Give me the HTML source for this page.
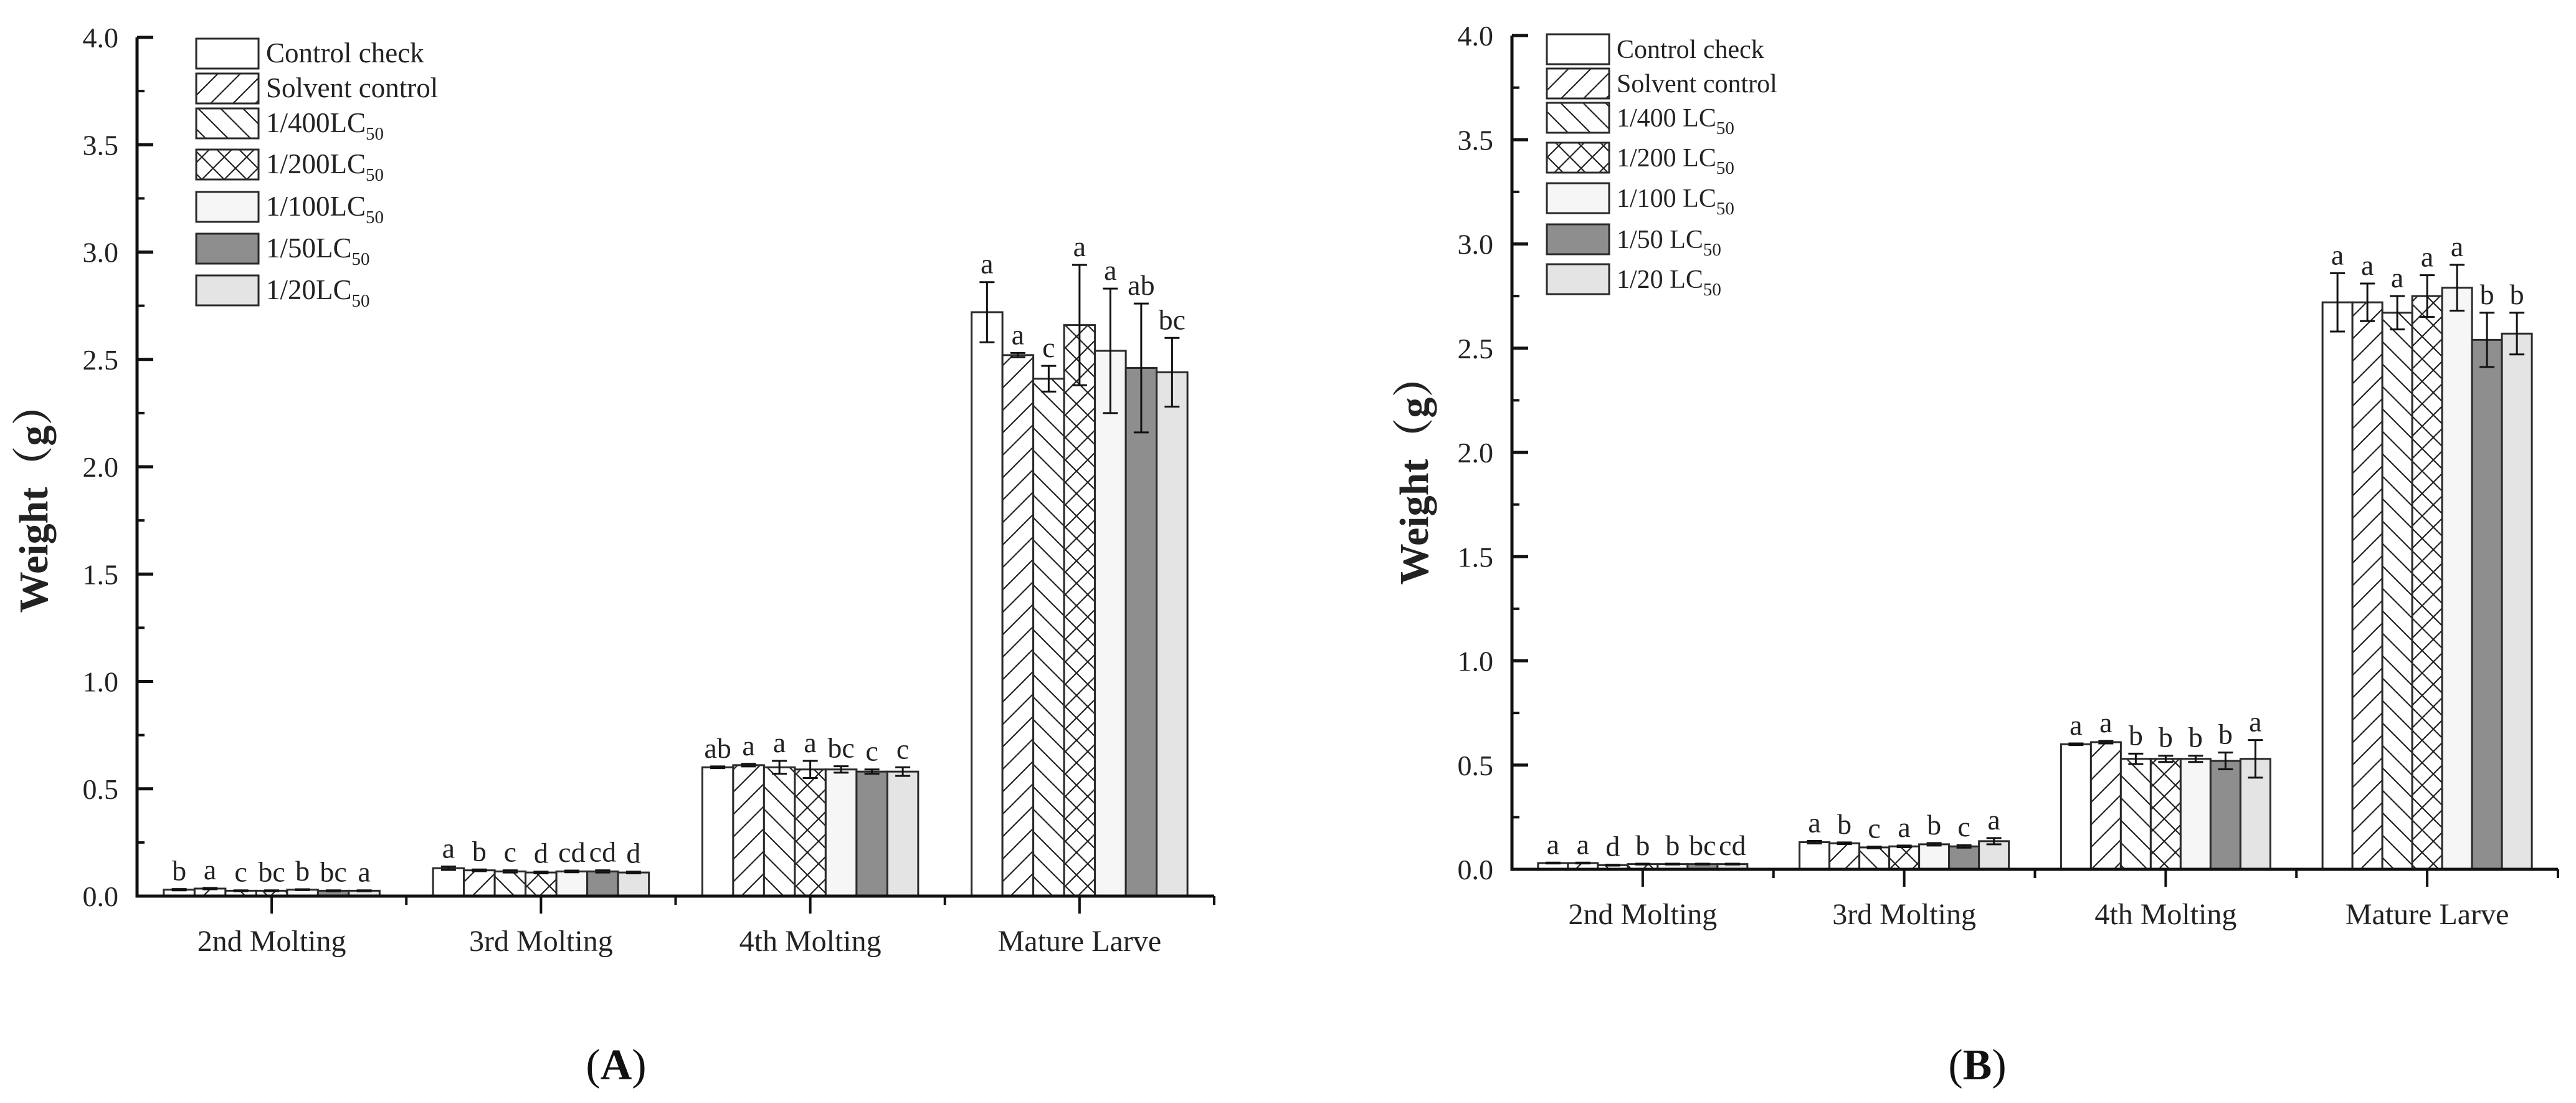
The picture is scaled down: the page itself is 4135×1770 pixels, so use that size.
<!DOCTYPE html>
<html><head><meta charset="utf-8">
<style>
html,body{margin:0;padding:0;background:#fff;}
svg{display:block;font-family:"Liberation Serif","Noto Serif CJK SC",serif;}
</style></head>
<body>
<svg id="fig" width="4135" height="1770" viewBox="0 0 4135 1770" xmlns="http://www.w3.org/2000/svg">
<defs>
<pattern id="hFwd" patternUnits="userSpaceOnUse" width="36" height="36">
<path d="M-9,9 L9,-9 M0,36 L36,0 M27,45 L45,27" stroke="#222" stroke-width="2.2"/>
</pattern>
<pattern id="hBack" patternUnits="userSpaceOnUse" width="36" height="36">
<path d="M-9,27 L9,45 M0,0 L36,36 M27,-9 L45,9" stroke="#222" stroke-width="2.2"/>
</pattern>
<pattern id="hCross" patternUnits="userSpaceOnUse" width="36" height="36">
<path d="M-9,9 L9,-9 M0,36 L36,0 M27,45 L45,27 M-9,27 L9,45 M0,0 L36,36 M27,-9 L45,9" stroke="#222" stroke-width="2.2"/>
</pattern>
</defs>
</svg>
<script>
// ---------- shared categories & series ----------
const categories = ["2nd Molting", "3rd Molting", "4th Molting", "Mature Larve"];
const yTicks = ["0.0", "0.5", "1.0", "1.5", "2.0", "2.5", "3.0", "3.5", "4.0"];
const seriesNamesA = ["Control check", "Solvent control", "1/400LC", "1/200LC", "1/100LC", "1/50LC", "1/20LC"];
const seriesNamesB = ["Control check", "Solvent control", "1/400 LC", "1/200 LC", "1/100 LC", "1/50 LC", "1/20 LC"];
const seriesSubs = ["", "", "50", "50", "50", "50", "50"];

// ---------- panel A data (rows = series, cols = categories) ----------
const controlA = [0.03, 0.13, 0.60, 2.72];
const solventA = [0.035, 0.12, 0.61, 2.52];
const lc400A = [0.025, 0.115, 0.60, 2.41];
const lc200A = [0.025, 0.11, 0.59, 2.66];
const lc100A = [0.03, 0.115, 0.59, 2.54];
const lc50A = [0.025, 0.115, 0.58, 2.46];
const lc20A = [0.025, 0.11, 0.58, 2.44];
const errA = [[0.003,0.008,0.004,0.14],[0.003,0.004,0.006,0.01],[0.002,0.005,0.03,0.06],[0.002,0.004,0.04,0.28],[0.002,0.004,0.015,0.29],[0.002,0.005,0.01,0.30],[0.002,0.004,0.02,0.16]];
const lettersA = [["b","a","ab","a"],["a","b","a","a"],["c","c","a","c"],["bc","d","a","a"],["b","cd","bc","a"],["bc","cd","c","ab"],["a","d","c","bc"]];

// ---------- panel B data ----------
const controlB = [0.03, 0.13, 0.60, 2.72];
const solventB = [0.03, 0.125, 0.61, 2.72];
const lc400B = [0.02, 0.105, 0.53, 2.67];
const lc200B = [0.025, 0.11, 0.53, 2.75];
const lc100B = [0.025, 0.12, 0.53, 2.79];
const lc50B = [0.025, 0.11, 0.52, 2.54];
const lc20B = [0.025, 0.135, 0.53, 2.57];
const errB = [[0.002,0.006,0.004,0.14],[0.002,0.004,0.006,0.09],[0.002,0.004,0.025,0.08],[0.002,0.004,0.015,0.10],[0.002,0.006,0.015,0.11],[0.002,0.006,0.04,0.13],[0.002,0.015,0.09,0.10]];
const lettersB = [["a","a","a","a"],["a","b","a","a"],["d","c","b","a"],["b","a","b","a"],["b","b","b","a"],["bc","c","b","b"],["cd","a","a","b"]];

const fills = ["#ffffff", "url(#hFwd)", "url(#hBack)", "url(#hCross)", "#f6f6f6", "#8e8e8e", "#e4e4e4"];
const NS = "http://www.w3.org/2000/svg";
const svg = document.getElementById("fig");

function mk(tag, attrs, parent) {
  const e = document.createElementNS(NS, tag);
  for (const k in attrs) e.setAttribute(k, attrs[k]);
  (parent || svg).appendChild(e);
  return e;
}

function drawPanel(P, values, errs, letters, names, tag) {
  const g = mk("g", {});
  
  
  const yScale = v => P.y0 - (v / 4) * (P.y0 - P.yTop);
  const groupW = (P.xEnd - P.x0) / categories.length;
  const xCenter = i => P.x0 + groupW * (i + 0.5);
  const nS = values.length;

  for (let s = 0; s < nS; s++) {
    for (let c = 0; c < categories.length; c++) {
      const v = values[s][c];
      const bx = xCenter(c) - P.barW * nS / 2 + s * P.barW;
      const by = yScale(v);
      if (fills[s].startsWith("url")) {
        const bg = mk("rect", {x: bx, y: by, width: P.barW, height: P.y0 - by, fill: "#fff"}, g);
        
        
      }
      const r = mk("rect", {x: bx, y: by, width: P.barW, height: P.y0 - by, fill: fills[s], stroke: "#2a2a2a", "stroke-width": 3}, g);
      
      
      const e = errs[s][c];
      const cx = bx + P.barW / 2;
      const yt = yScale(v + e), yb = yScale(v - e);
      const eb = mk("path", {d: `M${cx},${yt}L${cx},${yb}M${cx-12},${yt}L${cx+12},${yt}M${cx-12},${yb}L${cx+12},${yb}`, stroke: "#111", "stroke-width": 3, fill: "none"}, g);
      
      
      const t = mk("text", {x: cx, y: yt - 14, "font-size": 46, "text-anchor": "middle", fill: "#222"}, g);
      t.textContent = letters[s][c];
      
      
    }
  }

  const ax = mk("path", {d: `M${P.x0},${P.yTop}L${P.x0},${P.y0}L${P.xEnd},${P.y0}`, stroke: "#111", "stroke-width": 5, fill: "none"}, g);
  
  

  for (let i = 0; i < yTicks.length; i++) {
    const v = parseFloat(yTicks[i]);
    const y = yScale(v);
    const tk = mk("line", {x1: P.x0, x2: P.x0 + 26, y1: y, y2: y, stroke: "#111", "stroke-width": 5}, g);
    
    
    if (i < yTicks.length - 1) {
      const ym = yScale(v + 0.25);
      const mt = mk("line", {x1: P.x0, x2: P.x0 + 12, y1: ym, y2: ym, stroke: "#111", "stroke-width": 4}, g);
      
      
    }
    const lb = mk("text", {x: P.x0 - 30, y: y + 16, "font-size": 46, "text-anchor": "end", fill: "#222"}, g);
    lb.textContent = yTicks[i];
    
    
  }

  for (let c = 0; c < categories.length; c++) {
    const x = xCenter(c);
    const tk = mk("line", {x1: x, x2: x, y1: P.y0, y2: P.y0 + 28, stroke: "#111", "stroke-width": 4}, g);
    
    
    const xe = P.x0 + groupW * (c + 1);
    const mt = mk("line", {x1: xe, x2: xe, y1: P.y0, y2: P.y0 + 14, stroke: "#111", "stroke-width": 4}, g);
    
    
    const lb = mk("text", {x: x, y: P.y0 + 88, "font-size": 48, "text-anchor": "middle", fill: "#222"}, g);
    lb.textContent = categories[c];
    
    
  }

  const yt = mk("text", {x: 0, y: 0, "font-size": 66, "text-anchor": "middle", "font-weight": "bold", fill: "#222",
    transform: `translate(${P.titleX},${P.titleY}) rotate(-90)`}, g);
  yt.textContent = "Weight（g）";
  
  

  for (let s = 0; s < nS; s++) {
    const ly = P.legTops[s];
    if (fills[s].startsWith("url")) {
      const bg = mk("rect", {x: P.legX, y: ly, width: 100, height: 48, fill: "#fff"}, g);
      
      
    }
    const sw = mk("rect", {x: P.legX, y: ly, width: 100, height: 48, fill: fills[s], stroke: "#2a2a2a", "stroke-width": 3}, g);
    
    
    const t = mk("text", {x: P.legX + 112, y: ly + 38, "font-size": P.legFont, fill: "#222"}, g);
    
    
    t.textContent = names[s];
    if (seriesSubs[s]) {
      const ts = mk("tspan", {"font-size": 29, dy: 12}, t);
      ts.textContent = seriesSubs[s];
    }
  }

  const pl = mk("text", {x: P.labelX, y: 1732, "font-size": 70, "text-anchor": "middle", fill: "#111"}, g);
  
  
  pl.appendChild(document.createTextNode("("));
  const b = mk("tspan", {"font-weight": "bold"}, pl);
  b.textContent = tag;
  pl.appendChild(document.createTextNode(")"));
}

const valuesA = [controlA, solventA, lc400A, lc200A, lc100A, lc50A, lc20A];
const valuesB = [controlB, solventB, lc400B, lc200B, lc100B, lc50B, lc20B];

drawPanel({x0: 220, xEnd: 1949, y0: 1438, yTop: 60, barW: 49.5, titleX: 76, titleY: 800, legFont: 45,
  legX: 315, legTops: [62, 118, 174, 240, 308, 375, 442], labelX: 989}, valuesA, errA, lettersA, seriesNamesA, "A");
drawPanel({x0: 2427, xEnd: 4106, y0: 1395, yTop: 57, barW: 48, titleX: 2292, titleY: 755, legFont: 42,
  legX: 2483, legTops: [55, 110, 165, 229, 294, 360, 424], labelX: 3174}, valuesB, errB, lettersB, seriesNamesB, "B");
</script>
</body></html>
